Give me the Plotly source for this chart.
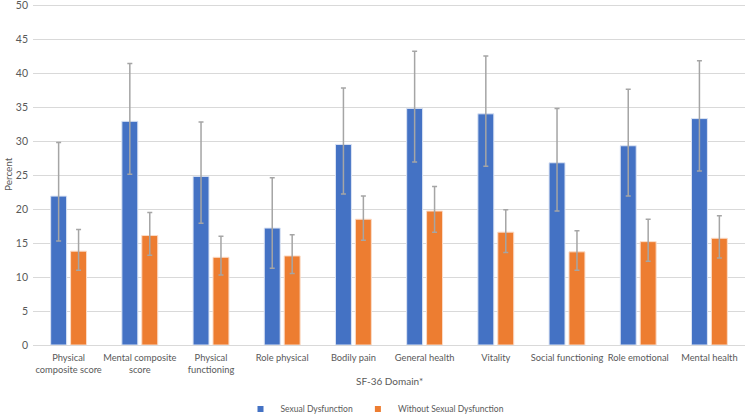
import plotly.graph_objects as go

categories = ["Physical<br>composite score", "Mental composite<br>score", "Physical<br>functioning",
              "Role physical", "Bodily pain", "General health", "Vitality",
              "Social functioning", "Role emotional", "Mental health"]

sd_values = [21.9, 32.9, 24.8, 17.2, 29.5, 34.8, 34.0, 26.8, 29.3, 33.3]
sd_upper = [29.8, 41.4, 32.8, 24.6, 37.8, 43.2, 42.5, 34.8, 37.6, 41.8]
sd_lower = [15.3, 25.1, 17.9, 11.3, 22.2, 26.9, 26.3, 19.7, 21.9, 25.6]

nsd_values = [13.8, 16.1, 12.9, 13.1, 18.5, 19.7, 16.6, 13.7, 15.2, 15.7]
nsd_upper = [17.0, 19.5, 16.0, 16.2, 21.9, 23.3, 19.9, 16.8, 18.5, 19.0]
nsd_lower = [11.0, 13.2, 10.3, 10.5, 15.4, 16.6, 13.6, 11.0, 12.3, 12.8]

y_ticks = [0, 5, 10, 15, 20, 25, 30, 35, 40, 45, 50]

FONT = "Lato, Open Sans, sans-serif"
TXT = "#595959"
ERR = "#A5A5A5"
BLUE = "#4472C4"
ORANGE = "#ED7D31"

def err(vals, up, lo, color):
    return dict(type="data", symmetric=False,
                array=[u - v for u, v in zip(up, vals)],
                arrayminus=[v - l for v, l in zip(vals, lo)],
                color=color, thickness=1.5, width=2.5)

fig = go.Figure()
fig.add_trace(go.Bar(name="Sexual Dysfunction", x=categories, y=sd_values, showlegend=False,
                     marker=dict(color=BLUE, line=dict(color="#DCE4F4", width=1)),
                     error_y=err(sd_values, sd_upper, sd_lower, ERR)))
fig.add_trace(go.Bar(name="Without Sexual Dysfunction", x=categories, y=nsd_values, showlegend=False,
                     marker=dict(color=ORANGE, line=dict(color="#FBDCC8", width=1)),
                     error_y=err(nsd_values, nsd_upper, nsd_lower, ERR)))
# legend entries (small square swatches as in the reference)
fig.add_trace(go.Scatter(name="Sexual Dysfunction", x=[None], y=[None], mode="markers",
                         marker=dict(symbol="square", size=6, color=BLUE)))
fig.add_trace(go.Scatter(name="Without Sexual Dysfunction", x=[None], y=[None], mode="markers",
                         marker=dict(symbol="square", size=6, color=ORANGE)))

fig.update_layout(
    width=750, height=416,
    margin=dict(l=33, r=5, t=3, b=71),
    paper_bgcolor="white", plot_bgcolor="white",
    barmode="group", bargap=0.44, bargroupgap=0.2,
    font=dict(family=FONT, size=10, color=TXT),
    showlegend=True,
    legend=dict(orientation="h", xref="container", yref="container",
                x=0.5, xanchor="center", y=7 / 416, yanchor="middle",
                font=dict(family=FONT, size=8.5, color=TXT), itemwidth=30,
                traceorder="normal", tracegroupgap=0),
    xaxis=dict(showgrid=False, showline=True, linecolor="#D9D9D9", linewidth=1,
               automargin=False, ticks="", tickangle=0, ticklabelstandoff=4,
               tickfont=dict(family=FONT, size=9.3, color=TXT)),
    yaxis=dict(range=[0, 50.3], tickvals=y_ticks, showgrid=True, gridcolor="#D9D9D9",
               gridwidth=1, zeroline=False, showline=False, ticks="", automargin=False,
               ticklabelstandoff=4, ticklabeloverflow="allow",
               tickfont=dict(family=FONT, size=10.5, color=TXT)),
    annotations=[
        dict(text="SF-36 Domain*", x=0.5, y=-0.105, xref="paper", yref="paper",
             showarrow=False, xanchor="center", yanchor="middle",
             font=dict(family=FONT, size=10, color=TXT)),
        dict(text="Percent", x=-0.035, y=0.5, xref="paper", yref="paper",
             showarrow=False, textangle=-90, xanchor="center", yanchor="middle",
             font=dict(family=FONT, size=10, color=TXT)),
    ],
)

post = """
document.documentElement.style.margin='0';
document.body.style.margin='0';
document.body.style.overflow='hidden';
"""

fig.write_html("out.html", config={"displayModeBar": False}, post_script=post)
